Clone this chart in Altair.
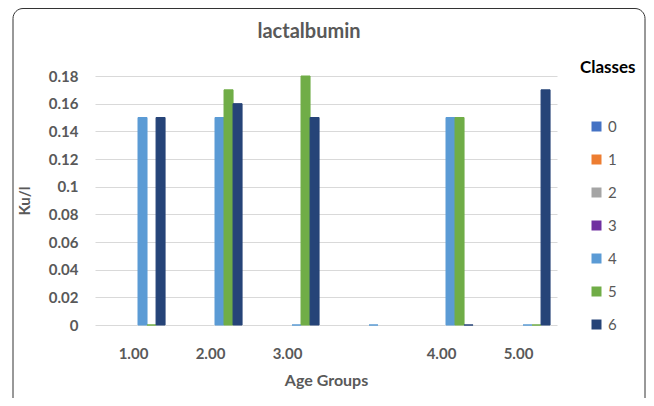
import altair as alt
import pandas as pd

age_groups = ["1.00", "2.00", "3.00", " ", "4.00", "5.00"]
classes = ["0", "1", "2", "3", "4", "5", "6"]
colors = ["#4472C4", "#ED7D31", "#A5A5A5", "#7030A0", "#5B9BD5", "#70AD47", "#264478"]

class4 = [0.15, 0.15, 0.0, 0.0, 0.15, 0.0]
class5 = [0.0, 0.17, 0.18, None, 0.15, 0.0]
class6 = [0.15, 0.16, 0.15, None, 0.0, 0.17]

rows = []
for cls, vals in (("4", class4), ("5", class5), ("6", class6)):
    for g, v in zip(age_groups, vals):
        if v is not None:
            rows.append({"age": g, "cls": cls, "val": v})
df = pd.DataFrame(rows)

FONT = "Lato"
GRAY = "#595959"

bars = alt.Chart(df).mark_bar(strokeWidth=1).encode(
    x=alt.X("age:N", sort=age_groups,
            scale=alt.Scale(domain=age_groups, paddingInner=0.18, paddingOuter=0.09),
            axis=alt.Axis(title="Age Groups", labelAngle=0, ticks=False, domain=False,
                          labelPadding=21, labelFontSize=15, labelFont=FONT,
                          labelFontWeight="bold", labelColor=GRAY,
                          titleFontSize=16, titleFont=FONT, titleFontWeight="bold",
                          titleColor=GRAY, titlePadding=11)),
    xOffset=alt.XOffset("cls:N", scale=alt.Scale(domain=classes)),
    y=alt.Y("val:Q", scale=alt.Scale(domain=[0, 0.18], nice=False),
            axis=alt.Axis(title="Ku/l", values=[0, 0.02, 0.04, 0.06, 0.08, 0.1, 0.12, 0.14, 0.16, 0.18],
                          format=".2~f", ticks=False, domain=False, gridColor="#d9d9d9",
                          labelPadding=17, labelFontSize=15, labelFont=FONT,
                          labelFontWeight="bold", labelColor=GRAY,
                          titleFontSize=15, titleFont=FONT, titleFontWeight="bold",
                          titleColor=GRAY, titlePadding=16)),
    color=alt.Color("cls:N", scale=alt.Scale(domain=classes, range=colors),
                    legend=alt.Legend(title="Classes", orient="none", legendX=485, legendY=-16,
                                      titleFontSize=17, titleFont=FONT, titleFontWeight="bold",
                                      titleColor="black", titlePadding=42,
                                      symbolType="square", symbolSize=100, symbolOffset=9,
                                      symbolStrokeWidth=0,
                                      labelFontSize=15, labelFont=FONT, labelColor=GRAY,
                                      rowPadding=17, padding=0)),
    stroke=alt.Stroke("cls:N", scale=alt.Scale(domain=classes, range=colors), legend=None),
)

border = alt.Chart(pd.DataFrame({"d": [0]})).mark_rect(
    fillOpacity=0, stroke="#333333", strokeWidth=1, cornerRadius=10
).encode(x=alt.value(-82), x2=alt.value(550), y=alt.value(-67.5), y2=alt.value(340))

chart = alt.layer(border, bars).properties(
    width=462, height=249,
    autosize=alt.AutoSizeParams(type="none"),
    padding={"left": 87, "top": 68, "right": 89, "bottom": 73},
    title=alt.TitleParams("lactalbumin", fontSize=20, fontWeight="bold", color=GRAY,
                          font=FONT, offset=0, dy=34, dx=-17, anchor="middle"),
).configure_view(stroke=None)

chart.save("out.html", embed_options={"renderer": "svg", "actions": False})
